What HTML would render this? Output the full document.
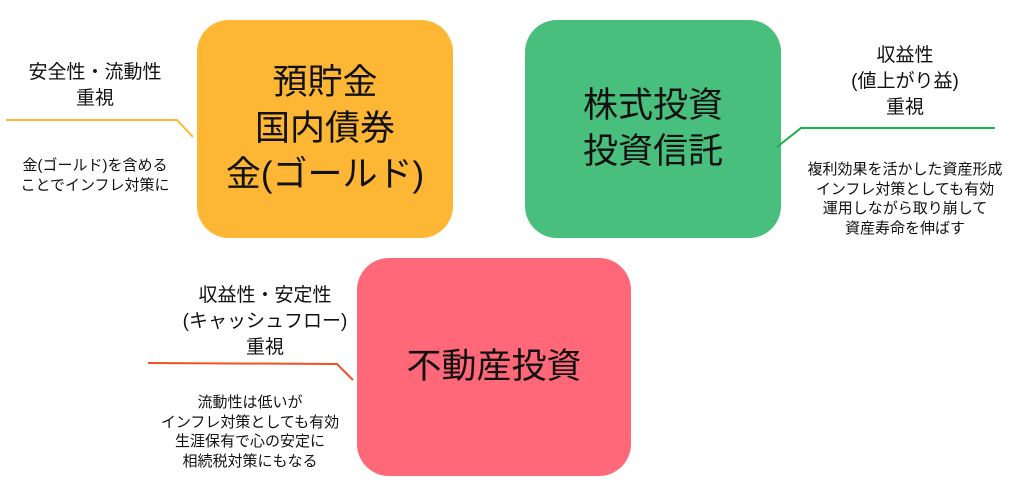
<!DOCTYPE html><html><head><meta charset="utf-8"><style>
body{margin:0;width:1024px;height:483px;background:#fff;position:relative;overflow:hidden;font-family:"Liberation Sans","Noto Sans CJK JP",sans-serif;color:#111}
.b{position:absolute;border-radius:32px;display:flex;align-items:center;justify-content:center;text-align:center;font-size:35px;line-height:46px}
.t{position:absolute;text-align:center;white-space:nowrap}
.l{font-size:19px;line-height:26px}
.s{font-size:15px;line-height:19.5px}
</style></head><body>
<div class="b" style="left:197px;top:20px;width:256px;height:218px;background:#fdb734">預貯金<br>国内債券<br>金(ゴールド)</div>
<div class="b" style="left:525px;top:20px;width:256px;height:218px;background:#48bf7c">株式投資<br>投資信託</div>
<div class="b" style="left:357px;top:258px;width:274px;height:218px;background:#fe6878">不動産投資</div>
<svg style="position:absolute;left:0;top:0" width="1024" height="483">
<polyline points="6,120 177,120 193,137" fill="none" stroke="#fdb734" stroke-width="2"/>
<polyline points="777,147 801,128 995,128" fill="none" stroke="#1cb04a" stroke-width="2"/>
<polyline points="148,363 337,364 353,380" fill="none" stroke="#f4511e" stroke-width="2"/>
</svg>
<div class="t l" style="left:0;width:190px;top:60px">安全性・流動性<br>重視</div>
<div class="t s" style="left:0;width:190px;top:156px">金(ゴールド)を含める<br>ことでインフレ対策に</div>
<div class="t l" style="left:805px;width:200px;top:43px">収益性<br>(値上がり益)<br>重視</div>
<div class="t s" style="left:800px;width:210px;top:160px">複利効果を活かした資産形成<br>インフレ対策としても有効<br>運用しながら取り崩して<br>資産寿命を伸ばす</div>
<div class="t l" style="left:165px;width:200px;top:283px">収益性・安定性<br>(キャッシュフロー)<br>重視</div>
<div class="t s" style="left:150px;width:200px;top:393px">流動性は低いが<br>インフレ対策としても有効<br>生涯保有で心の安定に<br>相続税対策にもなる</div>
</body></html>
